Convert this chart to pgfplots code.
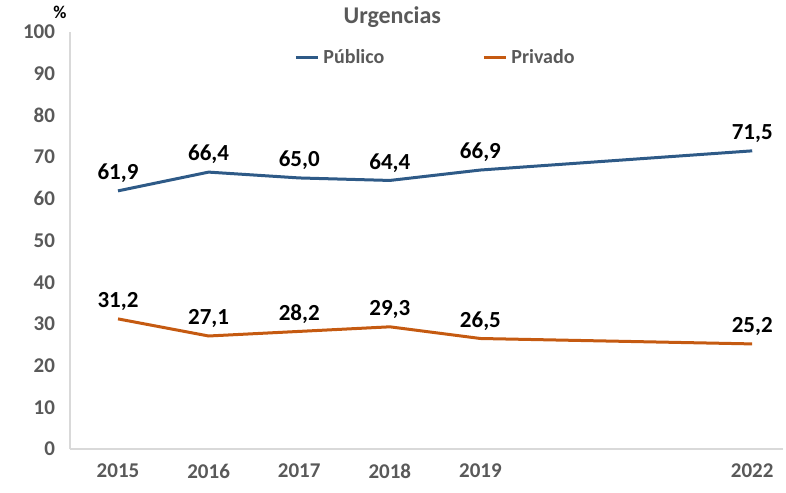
\documentclass[border=0pt]{standalone}
\usepackage{pgfplots}
\pgfplotsset{compat=1.18}
\usepackage{fontspec}
\setmainfont{Carlito}
\definecolor{pub}{HTML}{2E5A87}
\definecolor{priv}{HTML}{C55A11}
\definecolor{txt}{HTML}{595959}
\definecolor{axl}{HTML}{D9D9D9}
\begin{document}
\begin{tikzpicture}
\useasboundingbox (0,0) rectangle (393pt,246pt);
\begin{axis}[
  at={(35pt,21.5pt)}, anchor=south west,
  scale only axis, width=356.5pt, height=208.5pt,
  xmin=2014.47, xmax=2022.34, ymin=0, ymax=100,
  axis x line=bottom, axis y line=left,
  axis line style={axl, line width=0.8pt, -},
  xtick={2015,2016,2017,2018,2019,2022},
  ytick={0,10,...,100},
  major tick length=0pt,
  /pgf/number format/assume math mode=true,
  x tick label style={/pgf/number format/1000 sep={}, font=\bfseries\fontsize{10.5}{12}\selectfont, text=txt, yshift=-4pt},
  y tick label style={font=\bfseries\fontsize{10.5}{12}\selectfont, text=txt, xshift=-4pt},
  nodes near coords,
  point meta=y,
  nodes near coords style={font=\bfseries\fontsize{11.5}{13}\selectfont, text=black,
     /pgf/number format/.cd, fixed, fixed zerofill, precision=1, use comma, assume math mode=true},
  legend style={at={(0.514,0.938)}, anchor=center, draw=none, fill=none,
     font=\bfseries\fontsize{10}{12}\selectfont, text=txt, legend columns=2,
     /tikz/every even column/.append style={column sep=47pt}},
  legend image code/.code={\draw[#1, line width=1.5pt] (0pt,0pt) -- (11pt,0pt);},
  clip=false,
]
\addplot[pub, line width=1.5pt, mark=none] coordinates {
 (2015,61.9) (2016,66.4) (2017,65.0) (2018,64.4) (2019,66.9) (2022,71.5)};
\addlegendentry{Público}
\addplot[priv, line width=1.5pt, mark=none] coordinates {
 (2015,31.2) (2016,27.1) (2017,28.2) (2018,29.3) (2019,26.5) (2022,25.2)};
\addlegendentry{Privado}
\node[font=\bfseries\fontsize{12}{14}\selectfont, text=txt] at (rel axis cs:0.452,1) [yshift=7.5pt] {Urgencias};
\node[font=\bfseries\fontsize{9}{11}\selectfont, text=black] at (rel axis cs:0,1) [xshift=-5pt, yshift=10pt] {\%};
\end{axis}
\end{tikzpicture}
\end{document}
